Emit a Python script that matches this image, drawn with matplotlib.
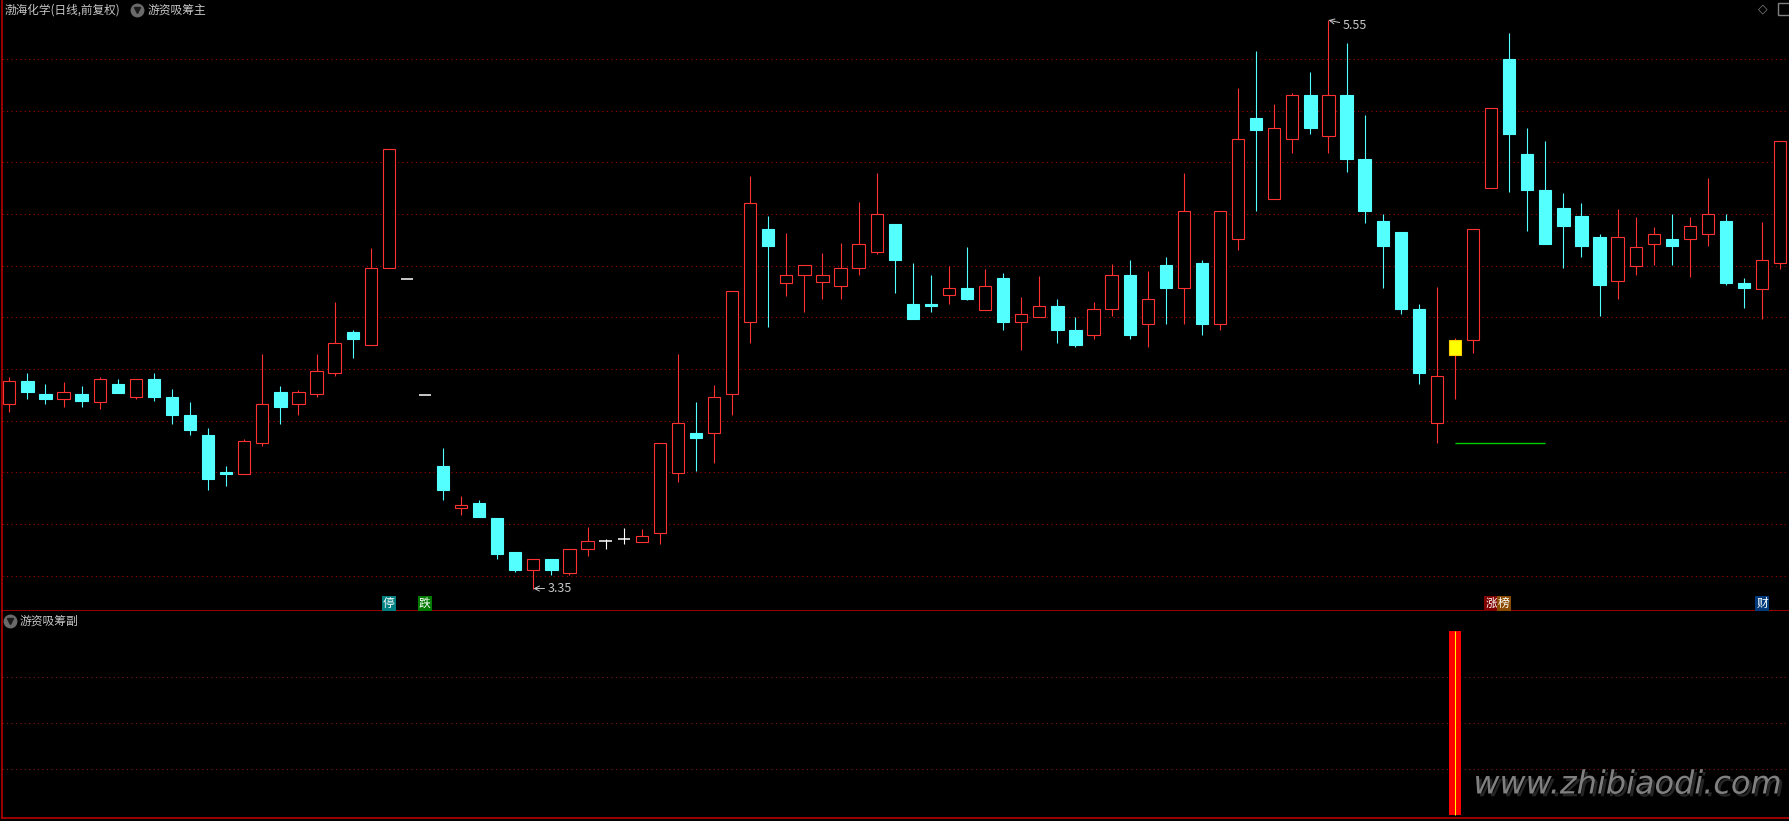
import matplotlib
matplotlib.use('Agg')
import matplotlib.pyplot as plt
from matplotlib.patches import Rectangle
from matplotlib.transforms import blended_transform_factory
import matplotlib.patheffects as pe

plt.rcParams['font.family'] = ['Noto Sans CJK SC', 'DejaVu Sans']

# ---------------- data ----------------
opens = [4.063, 4.154, 4.103, 4.083, 4.103, 4.071, 4.142, 4.090, 4.161, 4.092,
         4.022, 3.945, 3.800, 3.792, 3.912, 4.110, 4.063, 4.102, 4.183, 4.343,
         4.292, 4.590, 4.550, 4.100, 3.825, 3.661, 3.681, 3.623, 3.492, 3.421,
         3.463, 3.412, 3.502, 3.535, 3.542, 3.532, 3.563, 3.799, 3.952, 3.951,
         4.102, 4.381, 4.742, 4.532, 4.563, 4.538, 4.520, 4.590, 4.652, 4.761,
         4.452, 4.452, 4.488, 4.514, 4.430, 4.552, 4.381, 4.400, 4.444, 4.351,
         4.330, 4.431, 4.563, 4.373, 4.601, 4.512, 4.610, 4.373, 4.702, 5.172,
         4.859, 5.089, 5.259, 5.101, 5.259, 5.013, 4.773, 4.730, 4.432, 3.990,
         4.312, 4.311, 4.899, 5.400, 5.032, 4.892, 4.822, 4.792, 4.710, 4.539,
         4.600, 4.683, 4.703, 4.702, 4.721, 4.773, 4.533, 4.511, 4.609]
highs = [4.169, 4.185, 4.142, 4.150, 4.134, 4.169, 4.161, 4.160, 4.185, 4.123,
         4.072, 3.972, 3.825, 3.928, 4.258, 4.134, 4.119, 4.258, 4.459, 4.351,
         4.668, 5.050, 4.550, 4.100, 3.894, 3.708, 3.693, 3.623, 3.492, 3.463,
         3.463, 3.502, 3.588, 3.543, 3.585, 3.581, 3.912, 4.258, 4.072, 4.138,
         4.501, 4.947, 4.792, 4.726, 4.601, 4.649, 4.688, 4.846, 4.959, 4.761,
         4.610, 4.564, 4.599, 4.672, 4.587, 4.572, 4.479, 4.560, 4.471, 4.401,
         4.459, 4.606, 4.622, 4.579, 4.634, 4.959, 4.622, 4.812, 5.288, 5.431,
         5.226, 5.267, 5.350, 5.550, 5.462, 5.183, 4.800, 4.730, 4.452, 4.517,
         4.320, 4.741, 5.209, 5.501, 5.133, 5.083, 4.881, 4.843, 4.723, 4.819,
         4.788, 4.750, 4.800, 4.788, 4.938, 4.800, 4.552, 4.769, 5.081]
lows = [4.035, 4.085, 4.065, 4.054, 4.054, 4.043, 4.105, 4.085, 4.074, 3.985,
        3.946, 3.733, 3.745, 3.792, 3.903, 3.985, 4.023, 4.093, 4.174, 4.244,
        4.292, 4.590, 4.550, 4.100, 3.694, 3.636, 3.625, 3.466, 3.415, 3.350,
        3.404, 3.404, 3.474, 3.504, 3.524, 3.532, 3.524, 3.764, 3.803, 3.834,
        4.023, 4.302, 4.364, 4.484, 4.422, 4.472, 4.472, 4.565, 4.643, 4.492,
        4.395, 4.422, 4.453, 4.465, 4.430, 4.352, 4.275, 4.400, 4.302, 4.283,
        4.314, 4.403, 4.314, 4.283, 4.375, 4.375, 4.333, 4.351, 4.662, 4.813,
        4.859, 5.034, 5.111, 5.034, 4.964, 4.763, 4.515, 4.414, 4.143, 3.915,
        4.085, 4.263, 4.899, 4.883, 4.732, 4.685, 4.592, 4.635, 4.403, 4.472,
        4.565, 4.604, 4.604, 4.555, 4.674, 4.523, 4.434, 4.395, 4.586]
closes = [4.154, 4.111, 4.085, 4.110, 4.074, 4.160, 4.105, 4.160, 4.093, 4.023,
          3.965, 3.775, 3.795, 3.920, 4.063, 4.054, 4.110, 4.191, 4.299, 4.314,
          4.590, 5.050, 4.550, 4.100, 3.733, 3.672, 3.625, 3.485, 3.423, 3.463,
          3.423, 3.502, 3.533, 3.535, 3.542, 3.552, 3.912, 3.990, 3.934, 4.090,
          4.501, 4.841, 4.674, 4.563, 4.601, 4.563, 4.590, 4.683, 4.800, 4.623,
          4.395, 4.445, 4.512, 4.472, 4.520, 4.383, 4.412, 4.444, 4.352, 4.294,
          4.431, 4.563, 4.333, 4.470, 4.515, 4.810, 4.375, 4.812, 5.089, 5.123,
          5.132, 5.259, 5.134, 5.259, 5.014, 4.813, 4.674, 4.432, 4.186, 4.172,
          4.252, 4.741, 5.209, 5.111, 4.894, 4.685, 4.755, 4.674, 4.523, 4.710,
          4.671, 4.721, 4.674, 4.752, 4.800, 4.534, 4.515, 4.621, 5.081]

yellow_idx = [80]                 # candle painted yellow by the indicator
signal_idx = [80]                 # sub-panel signal bar
signal_val = [100]
support_start, support_end, support_price = 80, 85, 3.915

price_grid = [3.4, 3.6, 3.8, 4.0, 4.2, 4.4, 4.6, 4.8, 5.0, 5.2, 5.4]
sub_grid = [25, 50, 75]

tag_pos = [21, 23, 82, 82.7, 97]
tag_text = ['停', '跌', '涨', '榜', '财']
tag_color = ['#008080', '#007a00', '#800000', '#8a4a00', '#003a7a']

title_main = '渤海化学(日线,前复权)'
ind_main = '游资吸筹主'
ind_sub = '游资吸筹副'
watermark = 'www.zhibiaodi.com'

# ---------------- style ----------------
UP = '#ff3232'
DN = '#54ffff'
BORDER = '#b40000'
GRID = '#a00000'
TXT = '#c8c8c8'

W, H = 1790, 821
fig = plt.figure(figsize=(W / 100, H / 100), dpi=100, facecolor='black')

ax = fig.add_axes([2 / W, (H - 611) / H, (W - 2) / W, 611 / H], facecolor='black')
ax2 = fig.add_axes([2 / W, (H - 818) / H, (W - 2) / W, (818 - 611) / H], facecolor='black')

n = len(opens)
xlim = (-0.404, 98.54)
ax.set_xlim(*xlim)
ax.set_ylim(3.263, 5.628)
ax2.set_xlim(*xlim)
ax2.set_ylim(-1.6, 110.9)

for a in (ax, ax2):
    a.set_xticks([])
    a.set_yticks([])
    for s in a.spines.values():
        s.set_visible(False)
    a.spines['left'].set_visible(True)
    a.spines['left'].set_color(BORDER)
    a.spines['bottom'].set_visible(True)
    a.spines['bottom'].set_color(BORDER)
    a.spines['left'].set_linewidth(1.2)
    a.spines['bottom'].set_linewidth(1.2)

for g in price_grid:
    ax.axhline(g, color=GRID, lw=0.8, ls=(0, (1, 3)), zorder=0)
for g in sub_grid:
    ax2.axhline(g, color='#801818', lw=0.8, ls=(0, (1, 3)), zorder=0)

bw = 0.68
lw = 0.8
for i, (o, h, l, c) in enumerate(zip(opens, highs, lows, closes)):
    top, bot = max(o, c), min(o, c)
    if i in yellow_idx:
        ax.vlines(i, l, h, color=UP, lw=lw, zorder=2)
        ax.add_patch(Rectangle((i - bw / 2, bot), bw, top - bot, facecolor='#ffff00',
                               edgecolor='#ffcc00', lw=lw, zorder=3))
    elif c > o:
        if h > top:
            ax.vlines(i, top, h, color=UP, lw=lw, zorder=2)
        if l < bot:
            ax.vlines(i, l, bot, color=UP, lw=lw, zorder=2)
        ax.add_patch(Rectangle((i - bw / 2, bot), bw, top - bot, facecolor='black',
                               edgecolor=UP, lw=lw, zorder=3))
    elif c < o:
        ax.vlines(i, l, h, color=DN, lw=lw, zorder=2)
        ax.add_patch(Rectangle((i - bw / 2, bot), bw, top - bot, facecolor=DN,
                               edgecolor=DN, lw=lw, zorder=3))
    else:
        if h > l:
            ax.vlines(i, l, h, color='white', lw=lw, zorder=2)
        ax.hlines(o, i - bw / 2, i + bw / 2, color='white', lw=1.1, zorder=3)

# support line
ax.hlines(support_price, support_start, support_end, color='#00d000', lw=1.0, zorder=3)

# high / low marks
hi_i = max(range(n), key=lambda k: highs[k])
lo_i = min(range(n), key=lambda k: lows[k])
ax.annotate(f'{highs[hi_i]:.2f}', xy=(hi_i, highs[hi_i]), xytext=(10, -4),
            textcoords='offset points', ha='left', va='center', color=TXT, fontsize=9,
            arrowprops=dict(arrowstyle='->', color=TXT, lw=0.7, shrinkA=0, shrinkB=0))
ax.annotate(f'{lows[lo_i]:.2f}', xy=(lo_i, lows[lo_i]), xytext=(10, 0),
            textcoords='offset points', ha='left', va='center', color=TXT, fontsize=9,
            arrowprops=dict(arrowstyle='->', color=TXT, lw=0.7, shrinkA=0, shrinkB=0))

# bottom tags
trans = blended_transform_factory(ax.transData, ax.transAxes)
for p, t, col in zip(tag_pos, tag_text, tag_color):
    ax.text(p, 0.013, t, transform=trans, ha='center', va='center', color='white',
            fontsize=8.5, bbox=dict(boxstyle='square,pad=0.08', facecolor=col, edgecolor='none'))

# titles
ax.text(0.0012, 0.9836, title_main, transform=ax.transAxes, color=TXT,
        fontsize=8.4, ha='left', va='center')
ax.plot([0.0755], [0.9836], marker='o', ms=9, color='#6a6a6a', transform=ax.transAxes,
        clip_on=False)
ax.plot([0.0755], [0.9836], marker='v', ms=4, color='#1a1a1a', transform=ax.transAxes,
        clip_on=False)
ax.text(0.0815, 0.9836, ind_main, transform=ax.transAxes, color=TXT,
        fontsize=8.5, ha='left', va='center')

ax2.plot([0.0045], [0.953], marker='o', ms=9, color='#6a6a6a', transform=ax2.transAxes,
         clip_on=False)
ax2.plot([0.0045], [0.953], marker='v', ms=4, color='#1a1a1a', transform=ax2.transAxes,
         clip_on=False)
ax2.text(0.0101, 0.953, ind_sub, transform=ax2.transAxes, color=TXT,
         fontsize=8.5, ha='left', va='center')

# top-right icons
fig.text(1763 / W, 1 - 9 / H, '◇', color='#808080', fontsize=9, ha='center', va='center',
         family='DejaVu Sans')
ax.plot([0.9966], [0.9853], marker='s', ms=8, mfc='none', mec='#808080', mew=1.0,
        transform=ax.transAxes, clip_on=False)

# sub panel signal bar
for k, v in zip(signal_idx, signal_val):
    ax2.bar(k, v, width=0.62, bottom=0, color='#ff0000', zorder=2)
    ax2.vlines(k, 0, v, color='#ffff00', lw=0.7, zorder=3)

# watermark
fig.text(1782 / W, 1 - 785 / H, watermark, color='#808080', fontsize=23, style='italic',
         family='DejaVu Sans', ha='right', va='center',
         path_effects=[pe.SimplePatchShadow(offset=(2, -2), shadow_rgbFace='#2a2a2a', alpha=0.9),
                       pe.Normal()])

fig.savefig('out.png', dpi=100, facecolor='black')
